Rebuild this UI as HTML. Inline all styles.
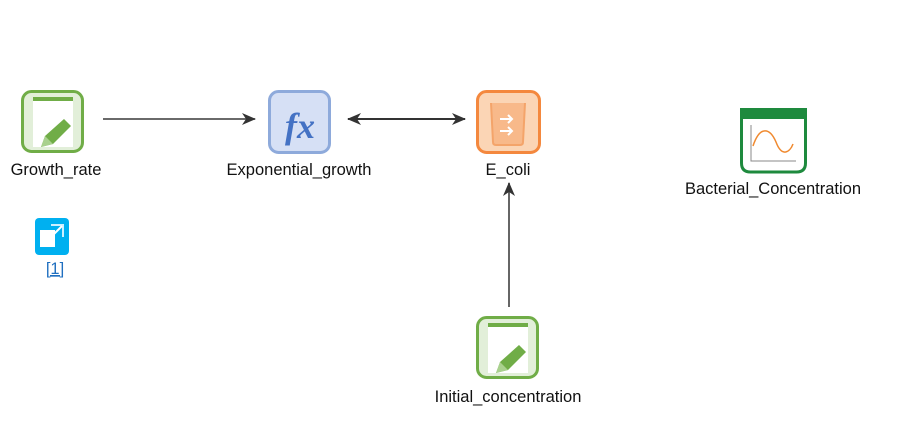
<!DOCTYPE html>
<html><head><style>body{margin:0;background:#fff}svg{display:block}</style></head><body>
<svg width="897" height="431" viewBox="0 0 897 431" font-family="Liberation Sans, Arial, sans-serif" font-size="16.5" fill="#111">
<defs>
<marker id="ar" markerWidth="14" markerHeight="12" refX="13" refY="6" orient="auto-start-reverse" markerUnits="userSpaceOnUse"><path d="M0,0 L14,6 L0,12 L4,6 Z" fill="#333"/></marker>
<g id="param">
<rect x="1.5" y="1.5" width="60" height="60" rx="9" fill="#e2efd9" stroke="#70ad47" stroke-width="3"/>
<rect x="12" y="7" width="40" height="50" fill="#fff"/>
<rect x="12" y="7" width="40" height="4" fill="#70ad47"/>
<path d="M43,29 L50,36 L32,54 L20,57 L24,46 Z" fill="#70ad47"/>
<path d="M24,46 L32,54 L20,57 Z" fill="#a9d18e"/>
</g>
</defs>
<line x1="103" y1="119" x2="255" y2="119" stroke="#555" stroke-width="1.8" marker-end="url(#ar)"/>
<line x1="348" y1="119" x2="465" y2="119" stroke="#333" stroke-width="2" marker-start="url(#ar)" marker-end="url(#ar)"/>
<line x1="509" y1="307" x2="509" y2="183" stroke="#555" stroke-width="1.8" marker-end="url(#ar)"/>
<use href="#param" x="21" y="90"/>
<text x="56" y="175" text-anchor="middle">Growth_rate</text>
<rect x="269.5" y="91.5" width="60" height="61" rx="9" fill="#d6e0f5" stroke="#8eaadb" stroke-width="3"/>
<text x="300" y="138" text-anchor="middle" font-family="Liberation Serif, serif" font-style="italic" font-weight="bold" font-size="36" fill="#4472c4">fx</text>
<text x="299" y="175" text-anchor="middle">Exponential_growth</text>
<rect x="477.5" y="91.5" width="62" height="61" rx="9" fill="#fbd5b5" stroke="#f4883e" stroke-width="3"/>
<path d="M491,103 L493,142 Q493,145 496,145 L520,145 Q523,145 523,142 L525,103" fill="#f8b98a" stroke="#f4a46a" stroke-width="2"/>
<path d="M500,119 h12 M508,115 l4,4 l-4,4 M500,131 h12 M508,127 l4,4 l-4,4" stroke="#fff" stroke-width="2" fill="none"/>
<text x="508" y="175" text-anchor="middle">E_coli</text>
<use href="#param" x="476" y="316"/>
<text x="508" y="402" text-anchor="middle">Initial_concentration</text>
<path d="M741.5,110 h64 v53 q0,9 -9,9 h-46 q-9,0 -9,-9 Z" fill="#fff" stroke="#1e8a3e" stroke-width="3"/>
<rect x="740" y="108" width="67" height="11" fill="#1e8a3e"/>
<path d="M751,125 v36 h45" stroke="#888" stroke-width="1" fill="none"/>
<path d="M753,146 C760,125 770,128 776,142 C782,158 790,152 793,144" stroke="#f08a30" stroke-width="1.5" fill="none"/>
<text x="773" y="194" text-anchor="middle">Bacterial_Concentration</text>
<rect x="35" y="218" width="34" height="37" rx="4" fill="#00b0f0"/>
<rect x="40" y="230" width="15" height="17" fill="#fff"/>
<path d="M51,225 h12 v12" stroke="#cdefff" stroke-width="2" fill="none"/>
<path d="M52,236 L62,226" stroke="#fff" stroke-width="2"/>
<text x="55" y="274" text-anchor="middle" fill="#1f6fc0" text-decoration="underline">[1]</text>
</svg>
</body></html>
